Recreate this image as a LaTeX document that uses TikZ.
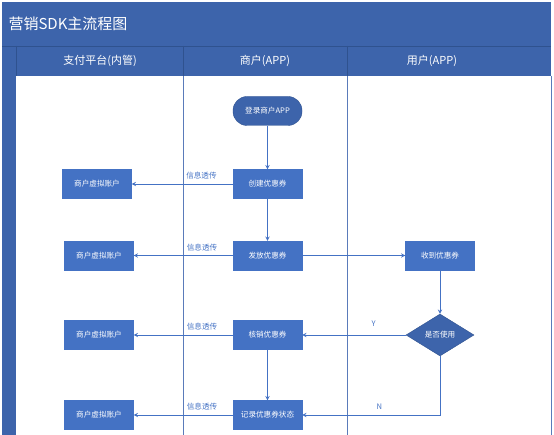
\documentclass[tikz,border=0pt]{standalone}
\usepackage{fontspec}
\setmainfont{Noto Sans CJK SC}
\usepackage{xcolor}
\usetikzlibrary{shapes.geometric,arrows}

\definecolor{barblue}{HTML}{3D64AB}
\definecolor{boxblue}{HTML}{4472C4}
\definecolor{laneline}{HTML}{5A7BBA}
\definecolor{sepline}{HTML}{2F528F}

\tikzset{
  stepbox/.style={draw=boxblue, fill=boxblue, text=white, minimum width=69pt, minimum height=29pt, inner sep=0pt, font=\fontsize{7.6}{8}\selectfont},
  startbox/.style={stepbox, rounded corners=14pt, fill=barblue, draw=sepline},
  choice/.style={diamond, aspect=1.6, draw=sepline, fill=barblue, text=white, minimum width=68pt, minimum height=42pt, inner sep=0pt, font=\fontsize{7.6}{8}\selectfont},
  flow/.style={->, >=stealth, draw=boxblue, line width=0.9pt},
  tag/.style={text=boxblue, font=\fontsize{7.6}{8}\selectfont, inner sep=1pt}
}

\begin{document}
\begin{tikzpicture}[x=1pt, y=-1pt]
  \useasboundingbox (0,0) rectangle (554,435);
  % frame and lanes
  \fill[barblue] (2,2) rectangle (551,76);
  \fill[barblue] (2,76) rectangle (16,435);
  \draw[sepline, line width=0.6pt] (2,46) -- (551,46);
  \draw[sepline, line width=0.6pt] (16,46) -- (16,76) (183,46) -- (183,76) (347,46) -- (347,76);
  \draw[laneline, line width=0.7pt] (183,76) -- (183,435) (347,76) -- (347,435) (551,76) -- (551,435);
  \node[text=white, anchor=west, font=\fontsize{15}{17}\selectfont] (title) at (5,24) {营销SDK主流程图};
  \node[text=white, font=\fontsize{11}{13}\selectfont] (lanepay) at (100,61) {支付平台(内管)};
  \node[text=white, font=\fontsize{11}{13}\selectfont] (lanemer) at (265,61) {商户(APP)};
  \node[text=white, font=\fontsize{11}{13}\selectfont] (laneuser) at (432,61) {用户(APP)};

  % steps
  \node[startbox] (login) at (267.5,111) {登录商户APP};
  \node[stepbox] (create) at (267.5,184) {创建优惠券};
  \node[stepbox] (issue) at (267.5,255.5) {发放优惠券};
  \node[stepbox] (verify) at (267.5,335) {核销优惠券};
  \node[stepbox] (record) at (267.5,415) {记录优惠券状态};
  \node[stepbox] (acct1) at (97,184) {商户虚拟账户};
  \node[stepbox] (acct2) at (99,255.5) {商户虚拟账户};
  \node[stepbox] (acct3) at (99,335) {商户虚拟账户};
  \node[stepbox] (acct4) at (99,415) {商户虚拟账户};
  \node[stepbox] (receive) at (440,255.5) {收到优惠券};
  \node[choice] (used) at (440,335) {是否使用};

  % connectors
  \draw[flow] (login) -- (create);
  \draw[flow] (create) -- (issue);
  \draw[flow] (verify) -- (record);
  \draw[flow] (create) -- node[tag, pos=0.31, above=3pt] {信息透传} (acct1);
  \draw[flow] (issue) -- node[tag, pos=0.31, above=3pt] {信息透传} (acct2);
  \draw[flow] (verify) -- node[tag, pos=0.31, above=3pt] {信息透传} (acct3);
  \draw[flow] (record) -- node[tag, pos=0.31, above=3pt] {信息透传} (acct4);
  \draw[flow] (issue) -- (receive);
  \draw[flow] (receive) -- (used);
  \draw[flow] (used.west) -- node[tag, pos=0.31, above=7pt] {Y} (verify);
  \draw[flow] (used.south) |- node[tag, pos=0.72, above=4pt] {N} (record);
\end{tikzpicture}
\end{document}
